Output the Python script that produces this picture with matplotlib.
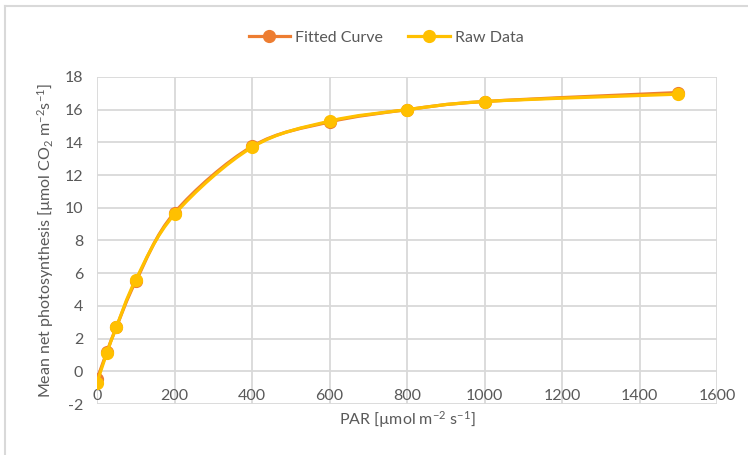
import numpy as np
import matplotlib
matplotlib.use("Agg")
from matplotlib import pyplot as plt
from matplotlib.path import Path
from matplotlib.patches import PathPatch
from matplotlib.lines import Line2D

# Data
par = [0, 25, 50, 100, 200, 400, 600, 800, 1000, 1500]
fitted = [-0.5, 1.15, 2.7, 5.5, 9.7, 13.75, 15.25, 16.0, 16.5, 17.05]
raw = [-0.7, 1.1, 2.7, 5.6, 9.6, 13.7, 15.3, 16.0, 16.5, 16.95]

x_ticks = [0, 200, 400, 600, 800, 1000, 1200, 1400, 1600]
y_ticks = [-2, 0, 2, 4, 6, 8, 10, 12, 14, 16, 18]

# Style
plt.rcParams['font.family'] = ['Lato', 'DejaVu Sans']
plt.rcParams['mathtext.default'] = 'regular'
plt.rcParams['axes.unicode_minus'] = False
text_col = "#595959"
grid_col = "#D9D9D9"
orange = "#ED7D31"
gold = "#FFC000"
fs = 11.5


def smooth_path(xs, ys):
    # Excel-like smoothed line: cubic bezier segments (Catmull-Rom control points)
    pts = np.column_stack([xs, ys]).astype(float)
    n = len(pts)
    verts = [pts[0]]
    codes = [Path.MOVETO]
    for i in range(n - 1):
        p0 = pts[max(i - 1, 0)]
        p1 = pts[i]
        p2 = pts[i + 1]
        p3 = pts[min(i + 2, n - 1)]
        c1 = p1 + (p2 - p0) / 6
        c2 = p2 - (p3 - p1) / 6
        verts += [c1, c2, p2]
        codes += [Path.CURVE4] * 3
    return Path(verts, codes)


fig = plt.figure(figsize=(7.48, 4.55), dpi=100)
ax = fig.add_axes([97 / 748, 1 - 404 / 455, 620 / 748, 327 / 455])

for series, col, z in [(fitted, orange, 3), (raw, gold, 5)]:
    ax.add_patch(PathPatch(smooth_path(par, series), facecolor="none",
                           edgecolor=col, lw=2.3, zorder=z, capstyle="round"))
    ax.plot(par, series, linestyle="none", marker="o", ms=8.5,
            color=col, zorder=z + 1)

ax.set_xlim(0, 1600)
ax.set_ylim(-2, 18)
ax.set_xticks(x_ticks)
ax.set_yticks(y_ticks)
ax.grid(True, color=grid_col, lw=1.3)
ax.set_axisbelow(True)
for s in ax.spines.values():
    s.set_visible(False)
ax.tick_params(length=0, labelsize=fs, colors=text_col)
ax.tick_params(axis='y', pad=10)
ax.tick_params(axis='x', pad=-11)

ax.set_xlabel("PAR [µmol m$^{-2}$ s$^{-1}$]", fontsize=fs, color=text_col, labelpad=4)
ax.set_ylabel("Mean net photosynthesis [µmol CO$_2$ m$^{-2}$s$^{-1}$]",
              fontsize=fs, color=text_col, labelpad=6)

handles = [Line2D([], [], color=orange, lw=2.3, marker="o", ms=8.5),
           Line2D([], [], color=gold, lw=2.3, marker="o", ms=8.5)]
fig.legend(handles, ["Fitted Curve", "Raw Data"], loc="center",
           bbox_to_anchor=(386 / 748, 1 - 38 / 455), ncol=2, frameon=False,
           fontsize=fs, labelcolor=text_col, handlelength=2.6,
           handletextpad=0.3, columnspacing=1.6)

# chart border
fig.add_artist(Line2D([5 / 748, 5 / 748], [0, 1 - 6 / 455], color=grid_col, lw=1.5))
fig.add_artist(Line2D([5 / 748, 1], [1 - 6 / 455, 1 - 6 / 455], color=grid_col, lw=1.5))

fig.savefig("out.png", dpi=100)
